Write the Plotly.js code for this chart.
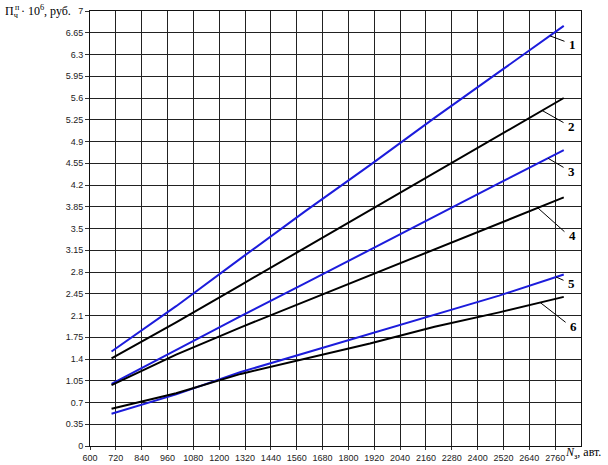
<!DOCTYPE html>
<html>
<head>
<meta charset="utf-8">
<script src="https://cdn.plot.ly/plotly-3.0.1.min.js"></script>
<style>
  html, body { margin: 0; padding: 0; background: white; }
  #chart { width: 608px; height: 465px; }
</style>
</head>
<body>
<div id="chart"></div>
<script>
// number of cars (x) and cost curves
const vehicles = [700, 1000, 1300, 1600, 1900, 2200, 2500, 2800];
const curve1 = [1.52, 2.25, 3.02, 3.78, 4.52, 5.28, 6.02, 6.76];
const curve2 = [1.41, 1.99, 2.59, 3.19, 3.79, 4.40, 5.00, 5.60];
const curve3 = [1.00, 1.55, 2.09, 2.62, 3.16, 3.70, 4.23, 4.76];
const curve4 = [0.98, 1.47, 1.91, 2.33, 2.75, 3.17, 3.58, 4.00];
const curve5 = [0.52, 0.83, 1.19, 1.50, 1.80, 2.12, 2.42, 2.76];
const curve6 = [0.60, 0.85, 1.16, 1.40, 1.65, 1.92, 2.15, 2.40];

const curveNames = ['1', '2', '3', '4', '5', '6'];
// where each number label points to on its curve
const labelX = [2736, 2699, 2727, 2680, 2764, 2690];
const labelY = [6.60, 5.40, 4.63, 3.83, 2.72, 2.31];

const xTicks = [600, 720, 840, 960, 1080, 1200, 1320, 1440, 1560, 1680, 1800,
  1920, 2040, 2160, 2280, 2400, 2520, 2640, 2760];
const yTicks = [0, 0.35, 0.7, 1.05, 1.4, 1.75, 2.1, 2.45, 2.8, 3.15, 3.5, 3.85,
  4.2, 4.55, 4.9, 5.25, 5.6, 5.95, 6.3, 6.65, 7];

const BLUE = '#1c1cdc';
const BLACK = '#000000';
const TICK_FONT = { family: 'Liberation Sans, Arial, sans-serif', size: 9, color: '#222' };
const SERIF = 'Liberation Serif, Times New Roman, serif';

const makeTrace = (values, color) => ({
  x: vehicles,
  y: values,
  mode: 'lines',
  type: 'scatter',
  line: { color: color, width: 2 },
  showlegend: false,
  hoverinfo: 'skip'
});

const traces = [
  makeTrace(curve1, BLUE),
  makeTrace(curve2, BLACK),
  makeTrace(curve3, BLUE),
  makeTrace(curve4, BLACK),
  makeTrace(curve5, BLUE),
  makeTrace(curve6, BLACK)
];

// end of each leader line relative to its point, in pixels
const leaderEnds = [[16, 6], [23, 13], [17, 10], [28, 25], [9, 4], [27, 21]];

const leaders = leaderEnds.map((end, i) => ({
  x: labelX[i],
  y: labelY[i],
  text: '',
  showarrow: true,
  arrowhead: 0,
  arrowwidth: 1,
  arrowcolor: 'black',
  ax: end[0],
  ay: end[1],
  standoff: 0,
  startstandoff: 0
}));

const numberLabels = curveNames.map((name, i) => ({
  x: labelX[i],
  y: labelY[i],
  text: name,
  showarrow: false,
  xanchor: 'left',
  yanchor: 'middle',
  xshift: leaderEnds[i][0] + 1,
  yshift: -leaderEnds[i][1] - 3,
  font: { family: SERIF, size: 13, color: 'black', weight: 'bold' }
}));

const axisTitles = [
  {
    xref: 'paper', yref: 'paper',
    x: -0.177, y: 1.0,
    xanchor: 'left', yanchor: 'middle',
    text: 'П<sub>ч</sub> · 10<sup>6</sup>, руб.',
    showarrow: false,
    font: { family: SERIF, size: 12, color: 'black' }
  },
  {
    xref: 'paper', yref: 'paper',
    x: -0.177, y: 1.0,
    xanchor: 'left', yanchor: 'middle',
    xshift: 10, yshift: 4,
    text: 'п',
    showarrow: false,
    font: { family: SERIF, size: 8, color: 'black' }
  },
  {
    xref: 'paper', yref: 'paper',
    x: 0.963, y: -0.017,
    xanchor: 'left', yanchor: 'middle',
    text: '<i>N</i><sub>з</sub>, авт.',
    showarrow: false,
    font: { family: SERIF, size: 12, color: 'black' }
  }
];

const baseAxis = {
  showgrid: true,
  gridcolor: '#222',
  gridwidth: 1,
  zeroline: false,
  showline: true,
  linecolor: '#111',
  linewidth: 1,
  mirror: true,
  ticks: 'outside',
  tickcolor: '#333',
  tickfont: TICK_FONT
};

const layout = {
  width: 608,
  height: 465,
  margin: { t: 11, r: 27, b: 19, l: 90 },
  plot_bgcolor: 'white',
  paper_bgcolor: 'white',
  showlegend: false,
  xaxis: Object.assign({}, baseAxis, {
    range: [600, 2880],
    tickvals: xTicks,
    ticktext: xTicks.map(String),
    ticklen: 3
  }),
  yaxis: Object.assign({}, baseAxis, {
    range: [0, 7],
    tickvals: yTicks,
    ticktext: yTicks.map(String),
    ticklen: 4
  }),
  annotations: leaders.concat(numberLabels, axisTitles)
};

Plotly.newPlot('chart', traces, layout, { displayModeBar: false, staticPlot: true });
</script>
</body>
</html>
